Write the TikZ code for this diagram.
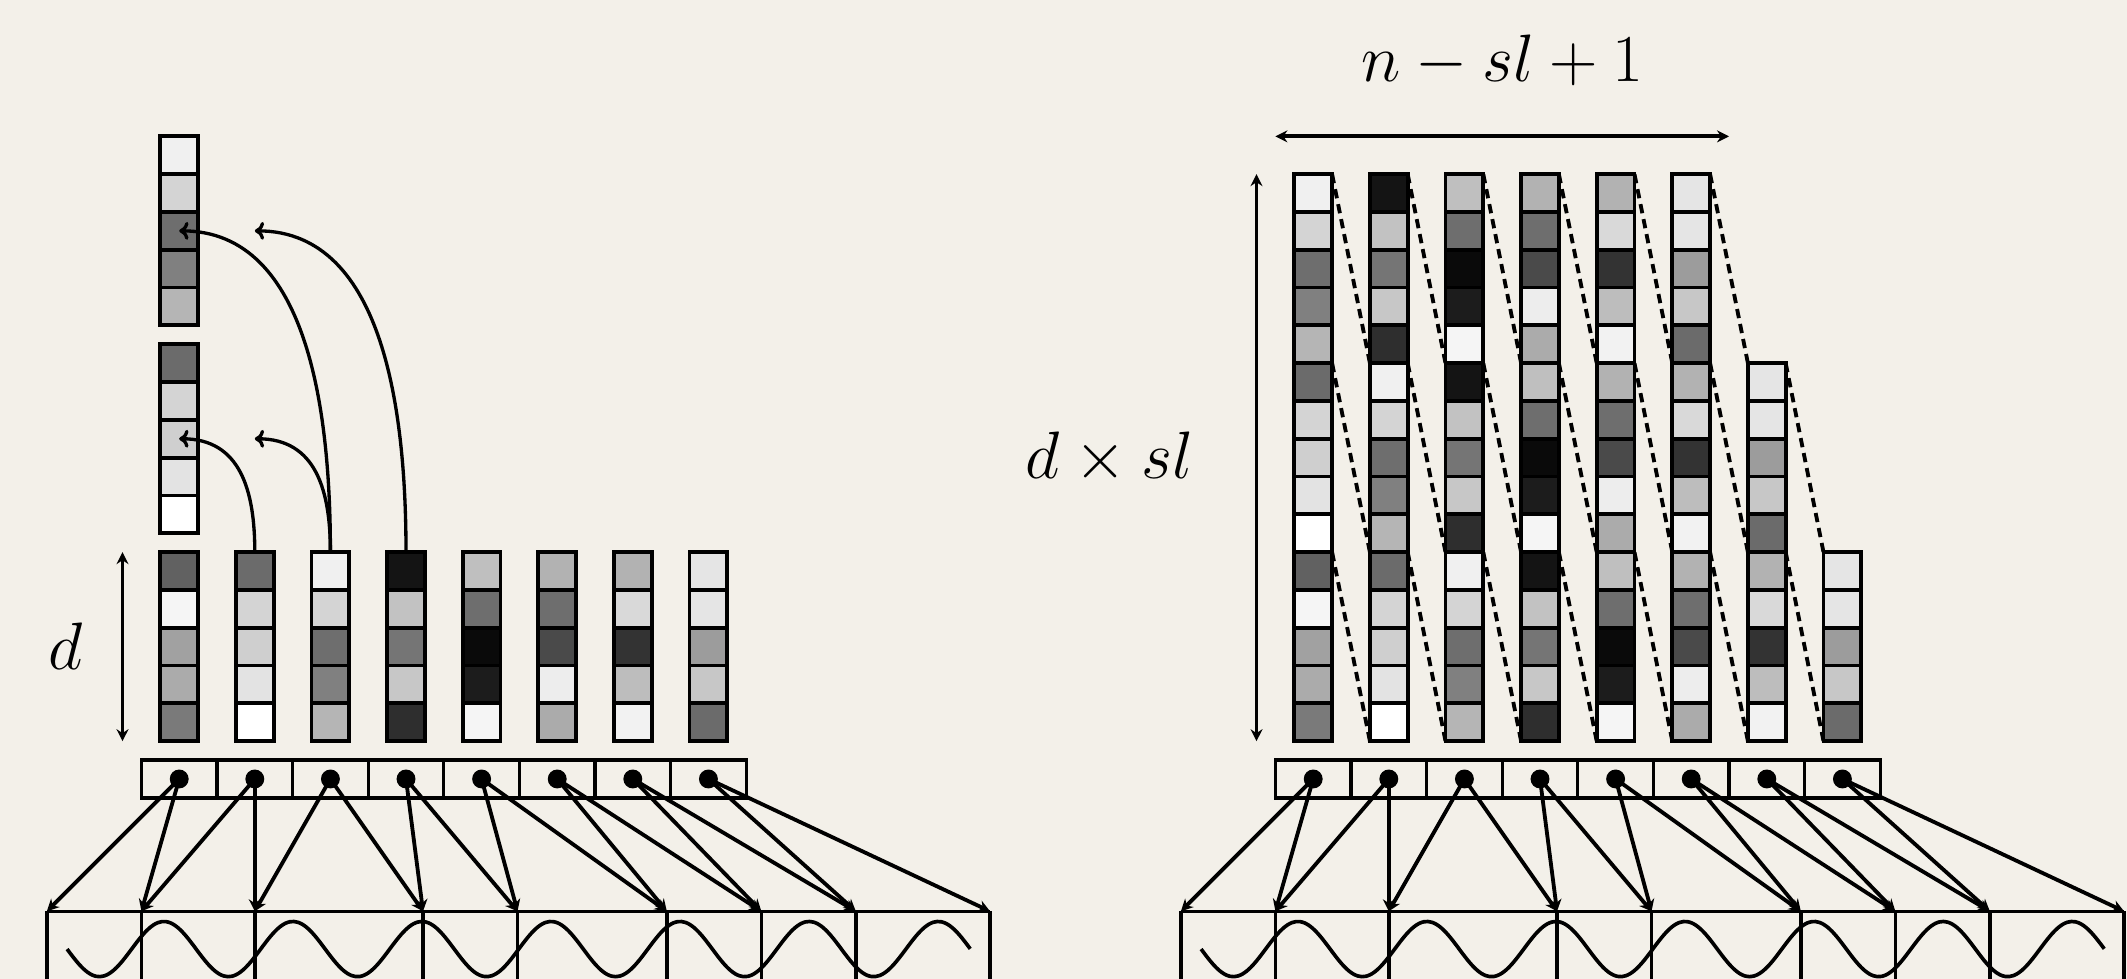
\documentclass[tikz,border=0pt]{standalone}
\usepackage{xcolor}
\usetikzlibrary{arrows.meta}

\definecolor{paper}{HTML}{F3F0E9}

% grey level (black!N) of every cell, 8 columns of 5, top to bottom
\def\shades{{62,4,37,33,52, 58,17,19,11,0, 6,17,57,50,29, 92,24,54,22,82,
             25,57,96,89,4, 30,57,71,7,33, 30,15,80,26,5, 10,10,39,22,58}}

\begin{document}
\begin{tikzpicture}[
    x=0.4cm, y=0.4cm,
    line width=1.15pt,
    >={Stealth[length=3.6pt,width=3.6pt]},
    cell/.style={rectangle, draw, minimum size=0.4cm, inner sep=0pt, outer sep=0pt},
    slot/.style={rectangle, draw, line width=1pt, minimum width=0.8cm, minimum height=0.4cm, inner sep=0pt, outer sep=0pt},
    dot/.style={circle, fill, minimum size=0.2cm, inner sep=0pt},
    dim/.style={font=\huge, scale=0.974},
    link/.style={->},
    hop/.style={-{To[length=2.8pt,width=5.4pt]}, line width=1pt},
    slide/.style={dash pattern=on 2.8pt off 1.8pt},
    frame/.style={line width=1.1pt},
    rim/.style={line width=0.75pt}
]

% Canvas
\path[use as bounding box, fill=paper] (-4.241,-6.291) rectangle (52.029,19.608);
\clip (-4.241,-6.291) rectangle (52.029,19.608);

% Input columns
\foreach \i in {0,...,7}
  \foreach \rw in {1,...,5} {
    \pgfmathtruncatemacro\gv{\shades[5*\i+\rw-1]}
    \node[cell, fill=black!\gv] (c-\i-\rw) at (2*\i+0.5, 5.5-\rw) {};
  }

% Copies above the first column
\foreach \rw in {1,...,5} {
  \pgfmathtruncatemacro\gv{\shades[5+\rw-1]}
  \node[cell, fill=black!\gv] (b-\rw) at (0.5, 11-\rw) {};
  \pgfmathtruncatemacro\gv{\shades[10+\rw-1]}
  \node[cell, fill=black!\gv] (a-\rw) at (0.5, 16.5-\rw) {};
}

% Stacked columns
\foreach \i in {0,...,7}
  \foreach \k in {0,1,2} {
    \pgfmathtruncatemacro\m{\i+\k}
    \ifnum\m<8\relax
      \foreach \rw in {1,...,5} {
        \pgfmathtruncatemacro\gv{\shades[5*\m+\rw-1]}
        \node[cell, fill=black!\gv] (w-\i-\k-\rw) at (30.5+2*\i, 5*\k+5.5-\rw) {};
      }
    \fi
  }

% Shifted blocks
\foreach \i in {0,...,6}
  \foreach \k in {0,1,2} {
    \pgfmathtruncatemacro\m{\i+\k}
    \pgfmathtruncatemacro\nx{\i+1}
    \ifnum\m<8\relax
      \draw[slide] (w-\i-\k-1.north east) -- (w-\i-\k-5.south east -| w-\nx-0-5.west);
    \fi
  }

% Curved moves
\draw[hop, looseness=1.15] (c-1-1.north) to[out=90, in=0] (b-3.center);
\draw[hop, looseness=1.15] (c-2-1.north) to[out=90, in=0] (b-3.center -| c-1-1.center);
\draw[hop, looseness=0.95] (c-2-1.north) to[out=90, in=0] (a-3.center);
\draw[hop, looseness=0.95] (c-3-1.north) to[out=90, in=0] (a-3.center -| c-1-1.center);

% Dimensions
\draw[<->] ([xshift=-0.4cm]c-0-1.north west) -- ([xshift=-0.4cm]c-0-5.south west);
\node[dim] (lab_d) at (-2.5, 2.5) {$d$};
\draw[<->] ([xshift=-0.4cm]w-0-2-1.north west) -- ([xshift=-0.4cm]w-0-0-5.south west);
\node[dim] (lab_dsl) at (25.1, 7.5) {$d \times sl$};
\draw[<->] ([shift={(-0.2cm,0.4cm)}]w-0-2-1.north west) -- ([shift={(0.2cm,0.4cm)}]w-5-2-1.north east);
\node[dim] (lab_n) at (35.5, 18) {$n - sl + 1$};

% Positions, segments and signal (both sides)
\foreach \sd/\dx in {l/0, r/30} {
  \foreach \i in {0,...,7}
    \node[slot] (s\sd-\i) at (2*\i+0.5+\dx, -1) {};
  \foreach \x [count=\e from 0] in {-3,-0.5,2.5,6.95,9.45,13.4,15.9,18.4,21.95}
    \coordinate (e\sd-\e) at (\x+\dx, -4.5);
  \draw[rim] (e\sd-0) -- (e\sd-8);
  \foreach \e in {0,...,8}
    \draw[frame] (e\sd-\e) -- ++(0,-3);
  \foreach \i in {0,...,7} {
    \pgfmathtruncatemacro\nx{\i+1}
    \draw[link] (s\sd-\i.center) -- (e\sd-\i);
    \draw[link] (s\sd-\i.center) -- (e\sd-\nx);
    \node[dot] (p\sd-\i) at (s\sd-\i.center) {};
  }
  \draw[frame] plot[domain=-2.466:21.43, samples=220, smooth]
    ({\x+\dx}, {-5.5-0.73*sin(360*(\x+2.466)/3.414)});
}

\end{tikzpicture}
\end{document}
